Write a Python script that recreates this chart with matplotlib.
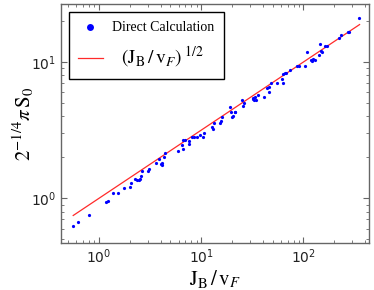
import numpy as np
import matplotlib
matplotlib.use("Agg")
import matplotlib.pyplot as plt
from matplotlib.lines import Line2D

# Data
jb_vf = [0.561, 0.628, 0.804, 1.18, 1.216, 1.36, 1.52, 1.77, 2.01, 2.06,
         2.25, 2.34, 2.44, 2.52, 2.56, 2.62, 3.04, 3.09, 3.59, 3.87,
         4.04, 4.17, 4.14, 4.30, 4.39, 5.98, 6.49, 6.59, 6.69, 7.0,
         7.60, 7.66, 8.07, 8.45, 9.03, 9.74, 10.34, 10.66, 12.86, 13.15,
         13.35, 15.29, 15.52, 15.99, 19.15, 19.45, 20.04, 20.65, 21.28, 21.6,
         24.9, 25.9, 26.2, 31.9, 32.4, 33.6, 32.9, 34.4, 36.3, 41.2,
         44.4, 46.5, 45.8, 47.9, 54.8, 61.4, 62.8, 63.7, 66.2, 67.6,
         74.1, 86.0, 90.0, 103.8, 109.4, 118.0, 120.7, 125.3, 130.1, 143.4,
         145.6, 148.9, 152.3, 163.0, 169.2, 225.0, 231.8, 275.8, 281.8, 348.0]
s0_scaled = [0.627, 0.670, 0.755, 0.940, 0.961, 1.088, 1.088, 1.197, 1.204, 1.288,
             1.386, 1.363, 1.363, 1.386, 1.467, 1.578, 1.587, 1.651, 1.806, 1.932,
             1.776, 1.756, 1.806, 1.999, 2.138, 2.237, 2.476, 2.314, 2.679, 2.679,
             2.633, 2.503, 2.834, 2.802, 2.802, 2.931, 2.834, 2.998, 3.355, 3.207,
             3.589, 3.548, 3.69, 3.93, 4.65, 4.30, 3.97, 4.02, 4.32, 4.30,
             5.27, 4.78, 4.98, 5.41, 5.38, 5.57, 5.26, 5.26, 5.73, 5.57,
             6.48, 6.52, 6.06, 7.05, 6.97, 7.50, 8.17, 7.05, 8.35, 8.35,
             8.74, 9.35, 9.35, 9.35, 11.9, 10.34, 10.17, 10.46, 10.34, 11.25,
             13.48, 12.11, 11.9, 13.18, 13.18, 14.91, 15.78, 16.51, 16.69, 21.0]
fit_x = [0.56, 354.0]

fig = plt.figure(figsize=(3.74, 2.90), dpi=100)
ax = fig.add_axes([0.163, 0.162, 0.824, 0.824])

fx = np.array(fit_x)
ax.plot(fx, np.sqrt(fx), color='#ff2a2a', lw=0.9, zorder=2)
ax.plot(jb_vf, s0_scaled, 'o', color='#0000ff', ms=2.3, mew=0, zorder=3)

ax.set_xscale('log')
ax.set_yscale('log')
ax.set_xlim(0.425, 439)
ax.set_ylim(0.470, 26.6)

for sp in ax.spines.values():
    sp.set_color('#666666')
    sp.set_linewidth(1.0)
ax.tick_params(which='both', direction='in', top=True, right=True, color='#666666',
               labelsize=10, labelcolor='#222222')
ax.tick_params(which='major', length=4, width=0.8)
ax.tick_params(which='minor', length=2, width=0.6)

ax.set_xlabel(r'$\mathrm{J_B\,/\,v}_{F}$', fontsize=15, math_fontfamily='stix', labelpad=1)
ax.set_ylabel(r'$\mathrm{2^{-1/4}}\pi\,\mathrm{S_0}$', fontsize=15, math_fontfamily='stix', labelpad=-4)

handles = [Line2D([], [], marker='o', ls='none', color='#0000ff', ms=5, mew=0),
           Line2D([], [], color='#ff2a2a', lw=0.9)]
labels = ['Direct Calculation', r'$\ \ \mathrm{(J_B\,/\,v}_{F}\mathrm{)}^{\ 1/2}$']
leg = ax.legend(handles, labels, loc='upper left', frameon=True, fancybox=False,
                edgecolor='black', framealpha=1, borderaxespad=0.55,
                prop={'family': 'Liberation Serif', 'size': 10},
                handlelength=1.75, handletextpad=0.65, labelspacing=0.7, borderpad=0.7)
leg.get_frame().set_linewidth(1.0)
leg.get_texts()[1].set_fontsize(14)
leg.get_texts()[1].set_math_fontfamily('stix')

fig.savefig('out.png', dpi=100)
